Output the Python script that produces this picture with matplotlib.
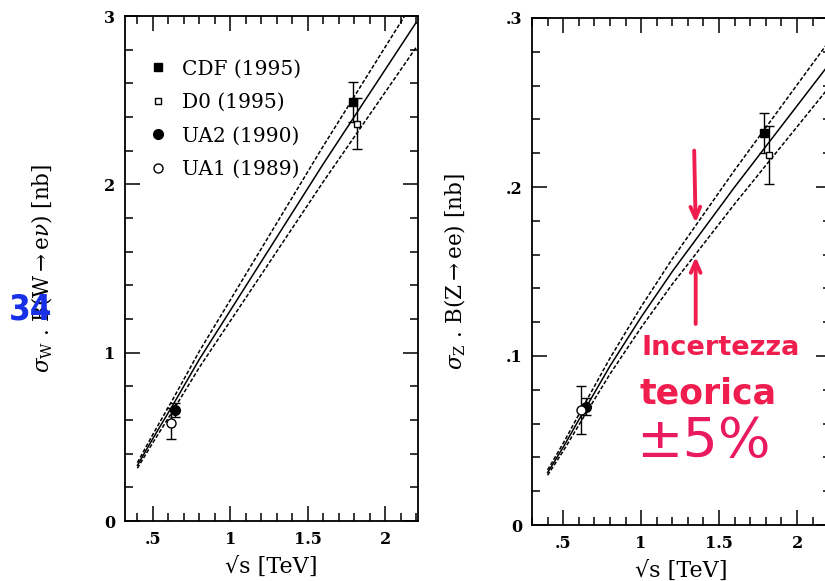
import numpy as np
import matplotlib
matplotlib.use("Agg")
import matplotlib.pyplot as plt
from matplotlib.ticker import MultipleLocator, FixedLocator, FixedFormatter

# ---- theory curves: central prediction vs sqrt(s) [TeV] ----
sqrt_s = [0.40, 0.50, 0.63, 0.80, 1.00, 1.20, 1.40, 1.60, 1.80, 2.00, 2.20]
sigma_w_theory = [0.33, 0.49, 0.69, 0.96, 1.25, 1.54, 1.83, 2.12, 2.40, 2.68, 2.96]
sigma_z_theory = [0.031, 0.046, 0.067, 0.094, 0.123, 0.150, 0.175, 0.200, 0.224, 0.248, 0.272]
theory_unc = 0.05  # relative theoretical uncertainty (+/- 5 %)

# ---- measurements ----
experiments = ["CDF (1995)", "D0 (1995)", "UA2 (1990)", "UA1 (1989)"]
exp_sqrt_s = [1.79, 1.82, 0.645, 0.615]
w_values = [2.49, 2.36, 0.66, 0.58]
w_errors = [0.12, 0.15, 0.04, 0.09]
z_values = [0.232, 0.219, 0.0700, 0.0680]
z_errors = [0.012, 0.017, 0.0050, 0.0140]

# marker style per experiment: (marker, size, filled)
styles = [("s", 5.5, True), ("s", 5.0, False), ("o", 7.0, True), ("o", 6.5, False)]

w_xticks = [0.5, 1.0, 1.5, 2.0]
w_xticklabels = [".5", "1", "1.5", "2"]
w_yticks = [0, 1, 2, 3]
w_yticklabels = ["0", "1", "2", "3"]
z_yticks = [0.0, 0.1, 0.2, 0.3]
z_yticklabels = ["0", ".1", ".2", ".3"]

FONT = "DejaVu Serif"
plt.rcParams["font.family"] = [FONT]
plt.rcParams["mathtext.fontset"] = "dejavuserif"

W, H = 825, 581
fig = plt.figure(figsize=(W / 100, H / 100), dpi=100)
fig.patch.set_facecolor("white")


def px_axes(x0, x1, ytop, ybot):
    return fig.add_axes([x0 / W, 1 - ybot / H, (x1 - x0) / W, (ybot - ytop) / H])


def style_axes(ax, xlim, ylim, yticks, yticklabels, yminor):
    ax.set_xlim(*xlim)
    ax.set_ylim(*ylim)
    ax.xaxis.set_major_locator(FixedLocator(w_xticks))
    ax.xaxis.set_major_formatter(FixedFormatter(w_xticklabels))
    ax.xaxis.set_minor_locator(MultipleLocator(0.1))
    ax.yaxis.set_major_locator(FixedLocator(yticks))
    ax.yaxis.set_major_formatter(FixedFormatter(yticklabels))
    ax.yaxis.set_minor_locator(MultipleLocator(yminor))
    ax.tick_params(which="both", direction="in", top=True, right=True,
                   width=1.1, colors="black")
    ax.tick_params(which="major", length=10.5, labelsize=11.5, pad=7)
    ax.tick_params(which="minor", length=5.5)
    for lab in ax.get_xticklabels() + ax.get_yticklabels():
        lab.set_fontweight("bold")
    for sp in ax.spines.values():
        sp.set_linewidth(1.3)


def draw_theory(ax, central):
    c = np.asarray(central)
    ax.plot(sqrt_s, c, color="black", lw=1.1, zorder=2)
    for f in (1 + theory_unc, 1 - theory_unc):
        ax.plot(sqrt_s, c * f, color="black", lw=1.1, dashes=(2.6, 1.3), zorder=2)


def draw_points(ax, values, errors):
    handles = []
    for name, xv, yv, ev, (mk, ms, filled) in zip(experiments, exp_sqrt_s, values, errors, styles):
        ax.errorbar([xv], [yv], yerr=[ev], fmt="none", ecolor="black",
                    elinewidth=1.0, capsize=3.8, capthick=1.0, zorder=3)
        h, = ax.plot([xv], [yv], linestyle="none", marker=mk, markersize=ms,
                     markerfacecolor="black" if filled else "white",
                     markeredgecolor="black", markeredgewidth=1.0, zorder=4,
                     label=name)
        handles.append(h)
    return handles


# ---------------- W panel ----------------
axw = px_axes(125, 418, 16, 521)
style_axes(axw, (0.32, 2.213), (0, 3), w_yticks, w_yticklabels, 0.2)
draw_theory(axw, sigma_w_theory)
hw = draw_points(axw, w_values, w_errors)
leg = axw.legend(handles=hw, loc="upper left", bbox_to_anchor=(0.06, 0.93),
                 frameon=False, handlelength=0.7, handletextpad=0.85,
                 labelspacing=0.72, borderaxespad=0.0,
                 prop={"family": FONT, "size": 14.5})
axw.set_xlabel("√s [TeV]", fontsize=16, labelpad=6)
axw.set_ylabel(r"$\sigma_{\rm W}$ . B(W$\rightarrow$e$\nu$) [nb]", fontsize=15.5, labelpad=35)

# ---------------- Z panel ----------------
axz = px_axes(532, 831, 18, 525)
style_axes(axz, (0.30, 2.218), (0, 0.3), z_yticks, z_yticklabels, 0.02)
draw_theory(axz, sigma_z_theory)
draw_points(axz, z_values, z_errors)
axz.set_xlabel("√s [TeV]", fontsize=16, labelpad=6)
axz.set_ylabel(r"$\sigma_{\rm Z}$ . B(Z$\rightarrow$ee) [nb]", fontsize=15.5, labelpad=27)

# handwritten notes on the theory band
red = "#f01e4e"
x_note = 1.35
z_c = np.interp(x_note, sqrt_s, sigma_z_theory)
top_edge = z_c * (1 + theory_unc)
bot_edge = z_c * (1 - theory_unc)
axz.annotate("", xy=(x_note, top_edge), xytext=(x_note - 0.01, top_edge + 0.046),
             arrowprops=dict(arrowstyle="->,head_length=0.8,head_width=0.35",
                             color=red, lw=2.8))
axz.annotate("", xy=(x_note, bot_edge), xytext=(x_note, bot_edge - 0.043),
             arrowprops=dict(arrowstyle="->,head_length=0.8,head_width=0.35",
                             color=red, lw=2.8))
fig.text(642 / W, 1 - 348 / H, "Incertezza", color=red, fontsize=19.5,
         fontweight="bold", family="DejaVu Sans", va="center", ha="left")
fig.text(640 / W, 1 - 393 / H, "teorica", color=red, fontsize=25,
         fontweight="bold", family="DejaVu Sans", va="center", ha="left")
fig.text(636 / W, 1 - 442 / H, "±5%", color="#ea1a5e", fontsize=40,
         family="DejaVu Sans", va="center", ha="left")

# blue marginal note
fig.text(31 / W, 1 - 310 / H, "34", color="#1830e8", fontsize=25,
         fontweight="bold", family="DejaVu Sans", fontstretch="condensed",
         va="center", ha="center")

fig.savefig("out.png", dpi=100, facecolor="white")
